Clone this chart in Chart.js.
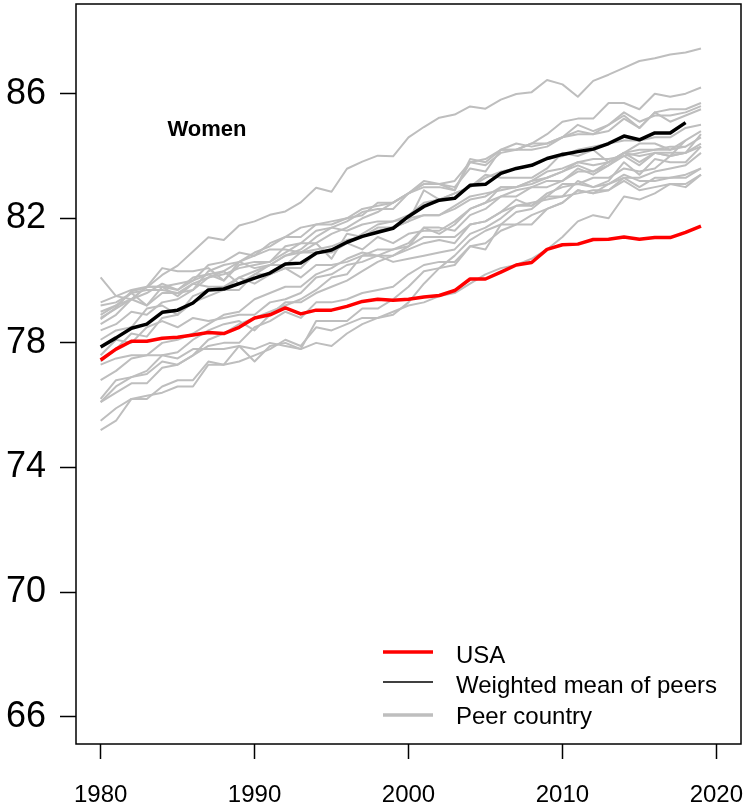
<!DOCTYPE html>
<html>
<head>
<meta charset="utf-8">
<script src="https://cdn.jsdelivr.net/npm/chart.js@4"></script>
<style>
  body { margin: 0; background: #fff; }
  canvas { display: block; }
</style>
</head>
<body>
<canvas id="lifeChart" width="747" height="805"></canvas>
<script>
const years = [1980,1981,1982,1983,1984,1985,1986,1987,1988,1989,
  1990,1991,1992,1993,1994,1995,1996,1997,1998,1999,
  2000,2001,2002,2003,2004,2005,2006,2007,2008,2009,
  2010,2011,2012,2013,2014,2015,2016,2017,2018,2019];

const xTicks = [1980, 1990, 2000, 2010, 2020];
const yTicks = [66, 70, 74, 78, 82, 86];

const usa = [77.45,77.8,78.05,78.05,78.15,78.18,78.25,78.33,78.3,78.5,
  78.8,78.9,79.12,78.93,79.05,79.05,79.17,79.33,79.4,79.37,
  79.4,79.47,79.52,79.68,80.05,80.05,80.27,80.5,80.58,81.0,
  81.15,81.17,81.32,81.33,81.4,81.33,81.38,81.38,81.55,81.75];

const peerMean = [77.87,78.16,78.47,78.6,78.98,79.05,79.28,79.7,79.73,79.9,
  80.08,80.24,80.53,80.56,80.88,80.98,81.23,81.42,81.55,81.68,
  82.06,82.38,82.58,82.64,83.06,83.09,83.44,83.6,83.7,83.92,
  84.05,84.14,84.22,84.4,84.64,84.52,84.74,84.74,85.07];

const peers = {
  japan: [78.76,79.13,79.66,79.78,80.18,80.48,80.93,81.39,81.30,81.77,
    81.90,82.11,82.22,82.51,82.98,82.85,83.59,83.82,84.01,83.99,
    84.60,84.93,85.23,85.33,85.59,85.52,85.81,85.99,86.05,86.44,
    86.30,85.90,86.41,86.61,86.83,87.05,87.14,87.26,87.32,87.45],
  spain: [78.6,78.9,79.4,79.2,79.6,79.6,79.9,80.1,80.2,80.4,
    80.5,80.6,81.1,81.2,81.6,81.7,81.9,82.2,82.3,82.3,
    82.8,83.1,83.1,83.0,83.6,83.5,84.2,84.2,84.4,84.7,
    85.1,85.2,85.2,85.7,85.7,85.5,86.0,85.9,86.0,86.2],
  france: [78.4,78.6,79.0,78.9,79.3,79.4,79.7,80.3,80.5,80.6,
    80.9,81.1,81.4,81.4,81.8,81.9,82.0,82.3,82.4,82.5,
    82.8,83.0,83.0,82.9,83.9,83.8,84.2,84.4,84.3,84.4,
    84.6,85.0,84.8,85.0,85.4,85.1,85.3,85.3,85.4,85.6],
  switzerland: [79.0,79.2,79.6,79.2,79.8,79.7,80.0,80.5,80.6,80.9,
    80.8,81.2,81.4,81.7,81.8,81.8,82.0,82.1,82.5,82.5,
    82.8,83.2,83.1,83.2,83.8,83.9,84.2,84.2,84.4,84.4,
    84.6,84.8,84.7,84.8,85.2,84.9,85.4,85.5,85.5,85.7],
  italy: [77.4,77.8,78.3,78.2,78.8,78.9,79.3,79.5,79.7,80.1,
    80.3,80.5,80.8,80.9,81.2,81.5,81.7,82.0,82.2,82.5,
    82.8,83.1,83.1,82.9,83.8,83.7,84.1,84.2,84.2,84.3,
    84.6,84.7,84.7,85.0,85.3,84.9,85.4,85.1,85.3,85.5],
  australia: [78.1,78.4,78.5,79.1,79.2,78.9,79.5,79.7,79.7,79.7,
    80.2,80.5,80.5,80.9,80.9,81.0,81.2,81.5,81.8,81.9,
    82.1,82.5,82.6,82.8,83.0,83.3,83.5,83.6,83.7,83.9,
    84.0,84.2,84.3,84.4,84.5,84.5,84.6,84.6,84.9,85.0],
  sweden: [78.8,79.1,79.4,79.6,79.9,79.7,80.1,80.2,80.0,80.6,
    80.4,80.5,80.8,81.0,81.4,81.7,81.6,81.8,81.9,81.9,
    82.0,82.1,82.1,82.4,82.7,82.8,82.9,83.0,83.2,83.3,
    83.5,83.7,83.5,83.7,84.1,84.0,84.1,84.1,84.1,84.7],
  norway: [79.3,79.5,79.7,79.8,79.8,79.5,79.9,79.8,79.8,80.1,
    79.9,80.2,80.4,80.4,80.9,80.9,81.2,81.0,81.4,81.2,
    81.5,81.6,81.6,81.9,82.3,82.5,82.7,82.7,83.0,83.2,
    83.2,83.5,83.5,83.8,84.1,84.2,84.2,84.3,84.3,84.6],
  canada: [78.9,79.2,79.4,79.8,79.8,79.9,80.0,80.2,80.3,80.6,
    80.8,81.0,81.0,80.9,81.0,81.1,81.3,81.4,81.6,81.7,
    81.9,82.1,82.1,82.3,82.6,82.7,83.0,83.0,83.2,83.5,
    83.6,83.8,83.9,83.9,84.0,84.1,84.2,84.2,84.3],
  netherlands: [79.2,79.3,79.6,79.7,79.7,79.6,79.7,80.1,80.3,79.9,
    80.2,80.2,80.4,80.1,80.5,80.5,80.6,80.8,80.8,80.6,
    80.7,80.8,80.9,81.0,81.5,81.7,82.0,82.4,82.4,82.8,
    83.0,83.1,83.0,83.1,83.4,83.2,83.2,83.3,83.4,83.6],
  denmark: [77.3,77.5,77.6,77.6,77.6,77.5,77.8,77.8,77.8,77.9,
    77.8,78.0,77.9,77.8,78.0,77.9,78.3,78.6,78.8,79.0,
    79.2,79.3,79.5,79.6,79.9,80.2,80.4,80.5,80.7,81.0,
    81.4,81.9,82.1,82.0,82.7,82.6,82.8,83.1,83.0,83.4],
  uk: [76.2,76.8,76.9,77.0,77.4,77.3,77.6,77.9,78.0,78.0,
    78.5,78.7,79.0,78.8,79.3,79.3,79.4,79.6,79.7,79.8,
    80.2,80.5,80.6,80.6,81.1,81.2,81.6,81.8,81.8,82.3,
    82.5,82.9,82.8,82.9,83.2,82.9,83.0,83.1,83.1,83.4],
  finland: [77.6,78.1,78.0,78.5,78.7,78.5,78.8,78.7,78.8,78.9,
    78.9,79.3,79.4,79.6,80.1,80.2,80.5,80.6,80.8,81.0,
    81.1,81.7,81.5,81.8,82.3,82.5,83.0,83.0,83.1,83.3,
    83.5,83.8,83.7,83.8,84.1,84.4,84.4,84.2,84.5,84.8],
  austria: [76.1,76.4,76.7,76.7,77.2,77.3,77.6,78.1,78.3,78.6,
    78.8,79.0,79.2,79.4,79.7,80.1,80.2,80.8,81.0,81.0,
    81.2,81.7,81.7,81.6,82.1,82.3,82.7,82.9,83.0,83.0,
    83.2,83.6,83.4,83.7,84.0,83.7,84.1,84.0,84.1,84.3],
  germany: [76.1,76.6,76.9,77.1,77.6,77.7,78.1,78.4,78.6,78.7,
    78.4,78.9,79.3,79.3,79.6,79.8,80.0,80.3,80.6,80.8,
    81.1,81.4,81.4,81.4,81.8,81.9,82.2,82.4,82.5,82.6,
    82.7,82.8,82.9,82.9,83.3,83.0,83.3,83.3,83.3,83.6],
  portugal: [75.2,75.5,76.2,76.2,76.6,76.8,76.8,77.4,77.3,77.9,
    77.4,77.9,78.0,77.8,78.7,78.7,78.7,79.1,79.1,79.4,
    79.8,80.3,80.4,80.5,81.1,81.0,81.8,81.8,82.1,82.3,
    82.5,82.9,82.8,83.1,83.3,83.3,83.5,83.6,83.7,84.1],
  belgium: [76.8,77.1,77.5,77.6,78.0,78.1,78.3,78.6,78.9,79.0,
    79.4,79.6,79.8,79.8,80.2,80.4,80.7,80.9,80.8,80.8,
    81.0,81.2,81.3,81.2,81.8,81.9,82.2,82.6,82.4,82.7,
    82.7,83.2,83.0,83.2,83.8,83.4,83.9,83.8,83.8,84.3],
  iceland: [80.1,79.5,79.4,79.8,80.4,80.3,80.3,80.4,80.0,80.5,
    80.6,80.6,80.9,81.2,81.2,80.7,81.5,81.4,81.7,81.7,
    81.9,82.9,82.6,82.8,83.0,83.4,83.3,83.3,83.3,83.6,
    84.1,84.0,84.2,83.8,84.1,83.8,84.1,84.0,84.5],
  ireland: [75.5,75.9,76.2,76.3,76.4,76.6,76.6,77.3,77.3,77.4,
    77.6,77.8,78.1,77.9,78.5,78.4,78.6,78.8,78.8,78.9,
    79.3,79.9,80.4,80.8,81.3,81.6,81.8,82.2,82.3,82.7,
    83.1,83.1,83.3,83.3,83.6,83.5,83.6,84.0,84.1,84.4]
};

const RED = '#ff0000';
const GREY = '#bebebe';
const FONT = '"Liberation Sans", Arial, sans-serif';

function toPoints(values) {
  return values.map((v, i) => ({ x: years[i], y: v }));
}

const datasets = [
  { label: 'USA', data: toPoints(usa), borderColor: RED, borderWidth: 3.5, order: 0 },
  { label: 'Weighted mean of peers', data: toPoints(peerMean), borderColor: '#000', borderWidth: 3.5, order: 1 }
];
Object.keys(peers).forEach(name => {
  datasets.push({ label: name, data: toPoints(peers[name]), borderColor: GREY, borderWidth: 2, order: 2 });
});

// box, panel label and legend drawn on top, R style
const extras = {
  id: 'extras',
  afterDraw(chart) {
    const { ctx, chartArea: a } = chart;
    ctx.save();
    ctx.strokeStyle = '#000';
    ctx.lineWidth = 1.5;
    ctx.strokeRect(a.left, a.top, a.right - a.left, a.bottom - a.top);

    ctx.fillStyle = '#000';
    ctx.font = 'bold 22px ' + FONT;
    ctx.textAlign = 'center';
    ctx.textBaseline = 'middle';
    ctx.fillText('Women', 207, 130);

    const rows = [
      { text: 'USA', color: RED, width: 3.5, ly: 652, ty: 656 },
      { text: 'Weighted mean of peers', color: '#000', width: 1.5, ly: 682, ty: 686 },
      { text: 'Peer country', color: GREY, width: 3.5, ly: 715, ty: 717 }
    ];
    ctx.font = '24px ' + FONT;
    ctx.textAlign = 'left';
    rows.forEach(r => {
      ctx.strokeStyle = r.color;
      ctx.lineWidth = r.width;
      ctx.beginPath();
      ctx.moveTo(383, r.ly);
      ctx.lineTo(433, r.ly);
      ctx.stroke();
      ctx.fillText(r.text, 456, r.ty);
    });
    ctx.restore();
  }
};

function noPad(s) {
  s.paddingTop = 0;
  s.paddingBottom = 0;
  s.paddingLeft = 0;
  s.paddingRight = 0;
}

new Chart(document.getElementById('lifeChart'), {
  type: 'line',
  data: { datasets },
  options: {
    responsive: false,
    animation: false,
    devicePixelRatio: 1,
    layout: { padding: { top: 4, right: 6, left: 0, bottom: 0 } },
    elements: { point: { radius: 0 }, line: { tension: 0, borderJoinStyle: 'round' } },
    plugins: { legend: { display: false }, tooltip: { enabled: false } },
    scales: {
      x: {
        type: 'linear',
        min: 1978.4,
        max: 2021.6,
        afterBuildTicks: s => { s.ticks = xTicks.map(v => ({ value: v })); },
        afterFit: s => { s.height = 61; noPad(s); },
        border: { display: false },
        grid: { drawOnChartArea: false, tickLength: 15, tickColor: '#000', tickWidth: 1.5 },
        ticks: { color: '#000', font: { family: FONT, size: 24 }, padding: 22, maxRotation: 0,
          callback: v => String(v) }
      },
      y: {
        min: 65.12,
        max: 88.88,
        afterBuildTicks: s => { s.ticks = yTicks.map(v => ({ value: v })); },
        afterFit: s => { s.width = 76; noPad(s); },
        border: { display: false },
        grid: { drawOnChartArea: false, tickLength: 16, tickColor: '#000', tickWidth: 1.5 },
        ticks: { color: '#000', font: { family: FONT, size: 36 }, padding: 14 }
      }
    }
  },
  plugins: [extras]
});
</script>
</body>
</html>
